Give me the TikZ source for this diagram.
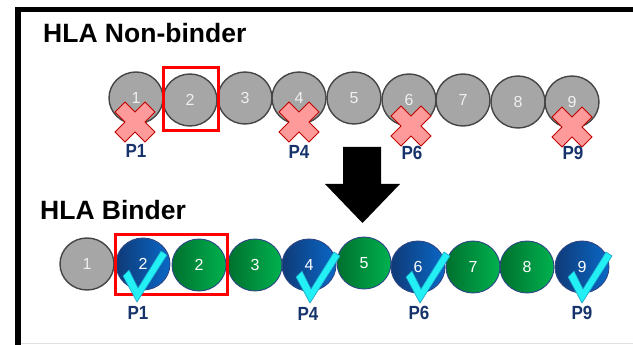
\documentclass[tikz,border=0pt]{standalone}
\usepackage{fontspec}
\setmainfont{Liberation Sans}
\usetikzlibrary{shapes.geometric}
\definecolor{ballgray}{HTML}{A6A6A6}
\definecolor{ballgrayedge}{HTML}{454545}
\definecolor{bluedark}{HTML}{0F3A78}
\definecolor{bluelight}{HTML}{0A68C6}
\definecolor{greendark}{HTML}{00702E}
\definecolor{greenlight}{HTML}{00B24F}
\definecolor{balledge}{HTML}{2E4686}
\definecolor{navy}{HTML}{17336B}
\definecolor{xfill}{HTML}{FF9A9A}
\definecolor{xedge}{HTML}{C00000}
\definecolor{chkfill}{HTML}{22F0F5}
\definecolor{chkedge}{HTML}{1A9FC4}
\definecolor{boxred}{HTML}{FF0000}
\tikzset{
  ball/.style={ellipse, minimum width=54pt, minimum height=52pt, inner sep=0pt,
    font=\fontsize{16}{16}\selectfont},
  grayball/.style={ball, fill=ballgray, draw=ballgrayedge, line width=1.4pt, text=white!94!black},
  blueball/.style={ball, left color=bluedark, right color=bluelight, draw=balledge, line width=0.9pt, text=white},
  greenball/.style={ball, left color=greendark, right color=greenlight, draw=balledge, line width=0.9pt, text=white},
  plabel/.style={text=navy, font=\fontsize{17}{17}\selectfont\bfseries, inner sep=0pt},
  title/.style={anchor=base west, inner sep=0pt, font=\fontsize{26.5}{26.5}\selectfont\bfseries},
  selbox/.style={draw=boxred, line width=3pt},
  redx/.pic={\draw[fill=xfill, draw=xedge, line width=1pt, line join=miter]
    (-20,-10) -- (-10,-20) -- (0,-10) -- (10,-20) -- (20,-10) -- (10,0) --
    (20,10) -- (10,20) -- (0,10) -- (-10,20) -- (-20,10) -- (-10,0) -- cycle;},
  cyancheck/.pic={\draw[fill=chkfill, draw=chkedge, line width=0.6pt, line join=miter]
    (0,0) -- (-14,-26) -- (-8,-32) -- (1,-14) -- (24,-51) -- (30,-47) -- cycle;}
}
\begin{document}
\begin{tikzpicture}[x=1pt,y=-1pt]
\useasboundingbox (0,0) rectangle (633,345);
% frame
\draw[line width=5.5pt, line join=miter] (633,9.5) -- (18,9.5) -- (18,345);
\draw[black!12, line width=1pt] (21,343.5) -- (633,343.5);

% titles
\node[title] (t1) at (43,43) {HLA Non-binder};
\node[title] (t2) at (40,219.5) {HLA Binder};

% top row
\node[grayball] (a1) at (136,98) {1};
\node[grayball] (a2) at (190,100) {2};
\node[grayball] (a3) at (245,98) {3};
\node[grayball] (a4) at (299,98) {4};
\node[grayball] (a5) at (354,98) {5};
\node[grayball] (a6) at (409,100) {6};
\node[grayball] (a7) at (463,100) {7};
\node[grayball] (a8) at (518,102) {8};
\node[grayball] (a9) at (572,102) {9};
\draw[selbox] (163.5,67.5) rectangle (218.5,130.5);
\pic at (135,122) {redx};
\pic at (299,122) {redx};
\pic at (411,126) {redx};
\pic at (572,127) {redx};
\node[plabel] (p1a) at (136,151) {\scalebox{1}[1.12]{P1}};
\node[plabel] (p4a) at (299,152) {\scalebox{1}[1.12]{P4}};
\node[plabel] (p6a) at (412,153) {\scalebox{1}[1.12]{P6}};
\node[plabel] (p9a) at (573,153) {\scalebox{1}[1.12]{P9}};

% big arrow
\fill (343,147) -- (381,147) -- (381,184) -- (400,184) -- (362.5,223) -- (325,184) -- (343,184) -- cycle;

% bottom row
\node[grayball] (b1) at (87,264) {1};
\node[blueball] (b2) at (143,264) {2};
\node[greenball] (b2g) at (199,265) {2};
\node[greenball] (b3) at (255,265) {3};
\node[blueball] (b4) at (309,265) {4};
\node[greenball] (b5) at (364,263) {5};
\node[blueball] (b6) at (418,267) {6};
\node[greenball] (b7) at (473,267) {7};
\node[greenball] (b8) at (527,267) {8};
\node[blueball] (b9) at (582,267) {9};
\draw[selbox] (115.5,234.5) rectangle (227.5,294.5);
\pic at (137,302) {cyancheck};
\pic at (310,303) {cyancheck};
\pic at (420,303) {cyancheck};
\pic at (582,303) {cyancheck};
\node[plabel] (p1b) at (138,313) {\scalebox{1}[1.12]{P1}};
\node[plabel] (p4b) at (308,313.5) {\scalebox{1}[1.12]{P4}};
\node[plabel] (p6b) at (419,313) {\scalebox{1}[1.12]{P6}};
\node[plabel] (p9b) at (582,313) {\scalebox{1}[1.12]{P9}};
\end{tikzpicture}
\end{document}
